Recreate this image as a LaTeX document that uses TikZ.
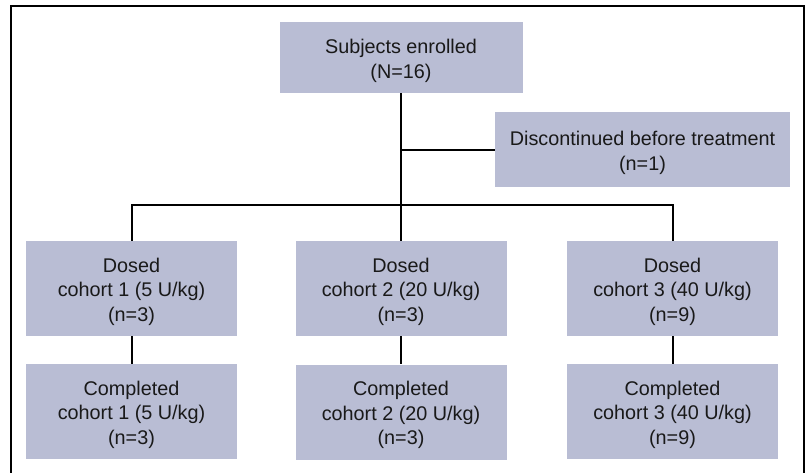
\documentclass[tikz,border=0pt]{standalone}
\usepackage{fontspec}
\setmainfont{Liberation Sans}
\definecolor{boxfill}{RGB}{185,189,212}
\definecolor{txt}{RGB}{25,25,25}
\newcommand\mytopstrut{\rule{0pt}{21pt}}
\begin{document}
\begin{tikzpicture}[x=1pt,y=-1pt,
  box/.style={fill=boxfill, draw=none, align=center, inner sep=0pt,
    font=\fontsize{19.8}{24.5}\selectfont, text=txt},
  link/.style={line width=2pt, draw=black}]
\useasboundingbox (0,0) rectangle (806,472);
\clip (0,0) rectangle (806,472);
\fill[white] (0,0) rectangle (806,472);
\draw[line width=2.2pt] (11,490) -- (11,6) -- (804,6) -- (804,490);
\node[box, minimum width=243pt, minimum height=71pt] (top) at (401,57.5) {\mytopstrut Subjects enrolled\\(N=16)};
\node[box, minimum width=295pt, minimum height=75pt] (disc) at (642.5,149.5) {\mytopstrut Discontinued before treatment\\(n=1)};
\node[box, minimum width=211pt, minimum height=95pt] (d1) at (131.5,288.5) {\mytopstrut Dosed\\cohort 1 (5 U/kg)\\(n=3)};
\node[box, minimum width=211pt, minimum height=95pt] (d2) at (401,288.5) {\mytopstrut Dosed\\cohort 2 (20 U/kg)\\(n=3)};
\node[box, minimum width=211pt, minimum height=95pt] (d3) at (672.5,288.5) {\mytopstrut Dosed\\cohort 3 (40 U/kg)\\(n=9)};
\node[box, minimum width=211pt, minimum height=95pt] (c1) at (131.5,411.5) {\mytopstrut Completed\\cohort 1 (5 U/kg)\\(n=3)};
\node[box, minimum width=211pt, minimum height=95pt] (c2) at (401,412) {\mytopstrut Completed\\cohort 2 (20 U/kg)\\(n=3)};
\node[box, minimum width=211pt, minimum height=95pt] (c3) at (672.5,411.5) {\mytopstrut Completed\\cohort 3 (40 U/kg)\\(n=9)};
\coordinate (br) at (401,205);
\draw[link] (top.south) -- (d2.north);
\draw[link] (top.south |- disc.west) -- (disc.west);
\draw[link] (d1.north) -- (d1.north |- br) -- (d3.north |- br) -- (d3.north);
\draw[link] (d1.south) -- (c1.north);
\draw[link] (d2.south) -- (c2.north);
\draw[link] (d3.south) -- (c3.north);
\end{tikzpicture}
\end{document}
